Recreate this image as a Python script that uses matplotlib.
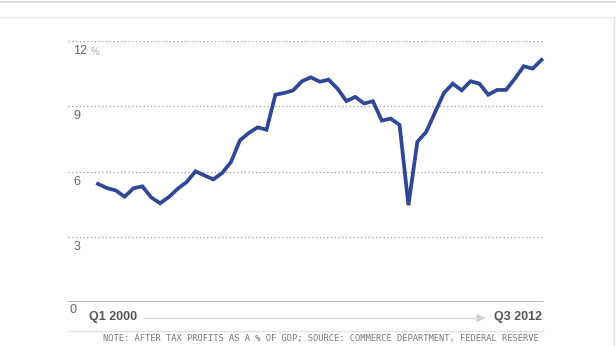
import matplotlib
matplotlib.use("Agg")
import matplotlib.pyplot as plt
from matplotlib.lines import Line2D

# -----------------------------
# DATA: after-tax profits as % of GDP, Q1 2000 - Q3 2012
# -----------------------------
years = list(range(2000, 2013))
quarters = [f"Q{q} {y}" for y in years for q in range(1, 5)][:51]

profit_share = [
    5.43, 5.24, 5.13, 4.84, 5.23, 5.32, 4.81, 4.54, 4.83, 5.21,
    5.52, 6.01, 5.82, 5.64, 5.93, 6.44, 7.43, 7.77, 8.03, 7.92,
    9.53, 9.61, 9.73, 10.15, 10.33, 10.13, 10.22, 9.81, 9.24, 9.43,
    9.13, 9.23, 8.34, 8.43, 8.14, 4.45, 7.36, 7.82, 8.72, 9.61,
    10.04, 9.73, 10.15, 10.04, 9.53, 9.75, 9.75, 10.27, 10.84, 10.73,
    11.13,
]

y_ticks = [0, 3, 6, 9, 12]
first_label = quarters[0]
last_label = quarters[-1]
note = "NOTE: AFTER TAX PROFITS AS A % OF GDP; SOURCE: COMMERCE DEPARTMENT, FEDERAL RESERVE"

# -----------------------------
# FIGURE
# -----------------------------
W, H = 616, 346
fig = plt.figure(figsize=(W / 100, H / 100), dpi=100)
fig.patch.set_facecolor("white")


def fx(px):
    return px / W


def fy(py):
    return 1 - py / H


# frame lines of the page
fig.add_artist(Line2D([0, 1], [fy(1.5), fy(1.5)], color="#d8d8d8", lw=1.2))
fig.add_artist(Line2D([0, 1], [fy(17), fy(17)], color="#e6e6e6", lw=1.0))
fig.add_artist(Line2D([fx(613.5), fx(613.5)], [fy(17), 0], color="#e6e6e6", lw=1.0))

ax = fig.add_axes([fx(68), fy(302), fx(543) - fx(68), fy(41) - fy(302)])
ax.set_xlim(-3.38, 50.17)
ax.set_ylim(0, 12)
for s in ax.spines.values():
    s.set_visible(False)
ax.set_xticks([])
ax.set_yticks([])

# gridlines
for t in y_ticks[1:]:
    ax.axhline(t, color="#9a9a9a", lw=0.9, linestyle=(0, (1, 2)), zorder=1)
ax.axhline(0, color="#b0b0b0", lw=1.3, zorder=1)

# y labels under each gridline
for t in y_ticks:
    if t == 0:
        continue
    ax.annotate(str(t), xy=(0, t), xycoords=("axes fraction", "data"),
                xytext=(4, -3), textcoords="offset points", ha="left", va="top",
                fontsize=9, color="#666666", family="Liberation Sans")
ax.annotate("%", xy=(0, 12), xycoords=("axes fraction", "data"),
            xytext=(16.5, -4), textcoords="offset points", ha="left", va="top",
            fontsize=7, color="#aaaaaa", family="Liberation Sans")
fig.text(fx(70), fy(310), "0", fontsize=9, color="#666666",
         family="Liberation Sans", ha="left", va="center")

# the series
x = list(range(len(profit_share)))
ax.plot(x, profit_share, color="#2f4797", lw=2.7, solid_joinstyle="miter",
        clip_on=False, zorder=3)

# time axis labels and arrow
fig.text(fx(89), fy(317), first_label, fontsize=9, fontweight="bold",
         color="#555555", family="Liberation Sans", ha="left", va="center")
fig.text(fx(542), fy(317), last_label, fontsize=9, fontweight="bold",
         color="#555555", family="Liberation Sans", ha="right", va="center")
fig.add_artist(Line2D([fx(144), fx(483)], [fy(318), fy(318)], color="#d6d6d6", lw=1.0))
ax.annotate("", xy=(fx(488), fy(318)), xytext=(fx(481), fy(318)),
            xycoords="figure fraction", textcoords="figure fraction",
            arrowprops=dict(arrowstyle="-|>,head_length=0.5,head_width=0.25",
                            color="#cccccc", lw=0.8))

# note
fig.add_artist(Line2D([fx(68), fx(543)], [fy(331), fy(331)], color="#e2e2e2", lw=1.0))
fig.text(fx(539), fy(339), note, fontsize=6.3, color="#777777",
         family="DejaVu Sans Mono", ha="right", va="center")

fig.savefig("out.png", dpi=100, facecolor="white")
plt.close(fig)
